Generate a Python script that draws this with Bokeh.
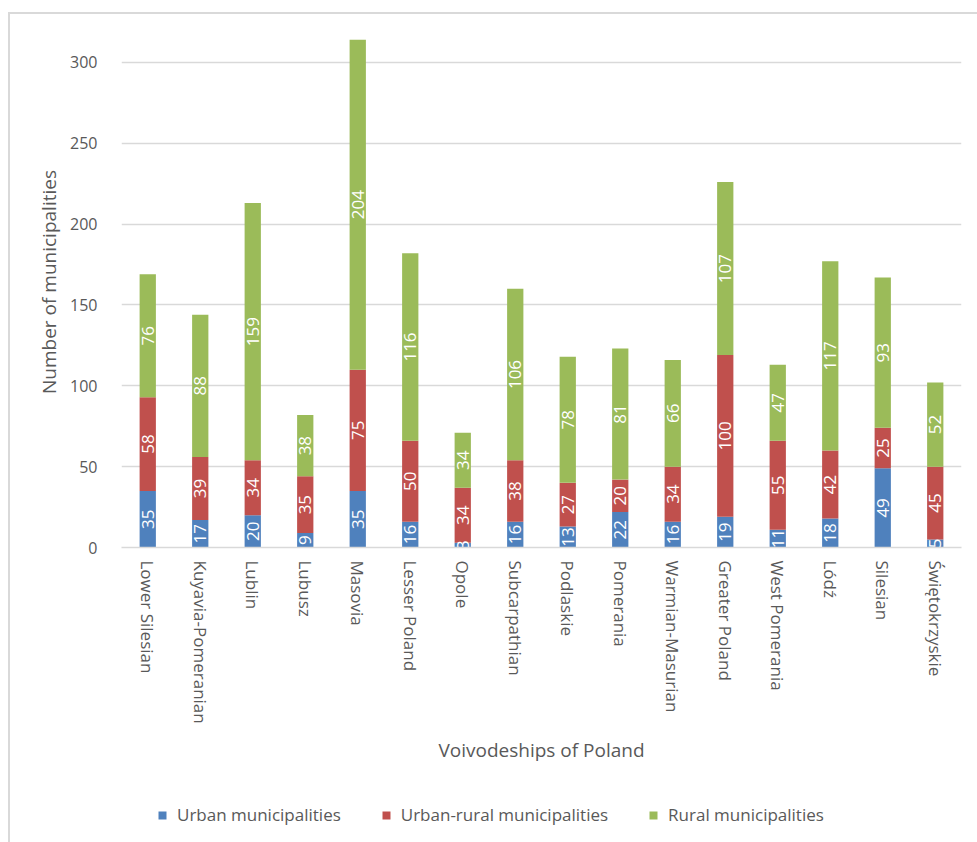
import math
from bokeh.plotting import figure
from bokeh.layouts import column
from bokeh.models import ColumnDataSource, Legend, LegendItem, FactorRange, Range1d
from bokeh.core.properties import value
from bokeh.embed import file_html
from bokeh.resources import INLINE

voivodeships = ["Lower Silesian", "Kuyavia-Pomeranian", "Lublin", "Lubusz", "Masovia",
                "Lesser Poland", "Opole", "Subcarpathian", "Podlaskie", "Pomerania",
                "Warmian-Masurian", "Greater Poland", "West Pomerania", "Lódź", "Silesian",
                "Świętokrzyskie"]
urban = [35, 17, 20, 9, 35, 16, 3, 16, 13, 22, 16, 19, 11, 18, 49, 5]
urban_rural = [58, 39, 34, 35, 75, 50, 34, 38, 27, 20, 34, 100, 55, 42, 25, 45]
rural = [76, 88, 159, 38, 204, 116, 34, 106, 78, 81, 66, 107, 47, 117, 93, 52]
series_names = ["Urban municipalities", "Urban-rural municipalities", "Rural municipalities"]
y_ticks = [0, 50, 100, 150, 200, 250, 300]

colors = ["#4F81BD", "#C0504D", "#9BBB59"]
FONT = "Open Sans"
GREY = "#595959"

keys = ["urban", "urban_rural", "rural"]
data = dict(x=voivodeships, urban=urban, urban_rural=urban_rural, rural=rural)
src = ColumnDataSource(data)

p = figure(x_range=FactorRange(*voivodeships, range_padding=0),
           y_range=Range1d(0, 328.4),
           frame_width=840, frame_height=531, output_backend="svg", toolbar_location=None,
           min_border_left=111, min_border_right=16, min_border_top=2, min_border_bottom=243)
p.outline_line_color = None
p.background_fill_color = "white"
p.border_fill_color = "white"

renderers = p.vbar_stack(keys, x="x", width=0.31, color=colors, source=src,
                         line_color=None)

# value labels
bottoms = [0] * len(voivodeships)
for k, vals in zip(keys, [urban, urban_rural, rural]):
    mids = [b + v / 2 for b, v in zip(bottoms, vals)]
    s = ColumnDataSource(dict(x=voivodeships, y=mids, t=[str(v) for v in vals]))
    p.text(x="x", y="y", text="t", source=s, angle=math.pi / 2,
           text_align="center", text_baseline="middle",
           text_color="white", text_font=value(FONT), text_font_size="17px")
    bottoms = [b + v for b, v in zip(bottoms, vals)]

# axes
p.xgrid.grid_line_color = None
p.ygrid.grid_line_color = "#d9d9d9"
p.ygrid.grid_line_width = 1.5
p.yaxis.ticker = y_ticks
p.yaxis.axis_line_color = None
p.yaxis.major_tick_line_color = None
p.yaxis.minor_tick_line_color = None
p.yaxis.major_label_text_font = FONT
p.yaxis.major_label_text_font_size = "16px"
p.yaxis.major_label_text_color = GREY
p.yaxis.major_label_standoff = 18
p.yaxis.axis_label = "Number of municipalities"
p.yaxis.axis_label_text_font = FONT
p.yaxis.axis_label_text_font_size = "19px"
p.yaxis.axis_label_text_font_style = "normal"
p.yaxis.axis_label_text_color = GREY
p.yaxis.axis_label_standoff = 5

p.xaxis.axis_line_color = "#d9d9d9"
p.xaxis.axis_line_width = 1.5
p.xaxis.major_tick_line_color = None
p.xaxis.minor_tick_line_color = None
p.xaxis.major_label_orientation = "vertical"
p.xaxis.major_label_text_font = FONT
p.xaxis.major_label_text_font_size = "17px"
p.xaxis.major_label_text_color = GREY
p.xaxis.major_label_standoff = 7
p.xaxis.axis_label = "Voivodeships of Poland"
p.xaxis.axis_label_text_font = FONT
p.xaxis.axis_label_text_font_size = "19px"
p.xaxis.axis_label_text_font_style = "normal"
p.xaxis.axis_label_text_color = GREY
p.xaxis.axis_label_standoff = 10

# legend strip (separate small figure below the chart)
leg = figure(width=967, height=52, x_range=Range1d(0, 1), y_range=Range1d(0, 1),
             x_axis_type=None, y_axis_type=None, output_backend="svg",
             toolbar_location=None, min_border=0)
leg.outline_line_color = None
leg.xgrid.grid_line_color = None
leg.ygrid.grid_line_color = None
# zero-size placeholder glyphs: only their legend swatches are seen
leg_renderers = [leg.vbar(x=[0], top=[0], bottom=[0], width=0, fill_color=c, line_color=None)
                 for c in colors]
legend = Legend(items=[LegendItem(label=n, renderers=[r]) for n, r in zip(series_names, leg_renderers)],
                orientation="horizontal", location=(36, 16))
legend.label_text_font = FONT
legend.label_text_font_size = "17px"
legend.label_text_color = GREY
legend.glyph_width = 10
legend.glyph_height = 10
legend.spacing = 40
legend.label_standoff = 10
legend.border_line_color = None
legend.background_fill_alpha = 0
leg.add_layout(legend)

layout = column(p, leg, spacing=0,
                styles={"margin-left": "8px", "margin-top": "12px",
                        "border-left": "2px solid #d9d9d9", "border-top": "2px solid #d9d9d9"})

open("out.html", "w").write(file_html(layout, INLINE))
